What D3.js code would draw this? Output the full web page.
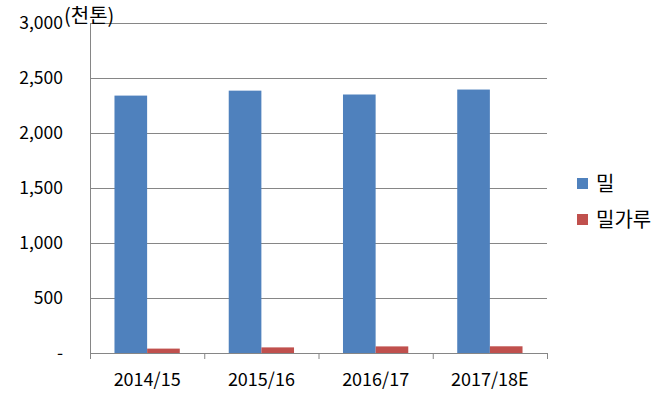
<!DOCTYPE html>
<html>
<head>
<meta charset="utf-8">
<script src="https://cdn.jsdelivr.net/npm/d3@7"></script>
<style>
  body { margin: 0; background: #fff; }
  text { font-family: "Noto Sans CJK KR", "Noto Sans", sans-serif; fill: #000; }
</style>
</head>
<body>
<div id="chart"></div>
<script>
// 연도별 값 (천톤)
var categories = ["2014/15", "2015/16", "2016/17", "2017/18E"];
var seriesNames = ["밀", "밀가루"];
var wheat = [2340, 2385, 2350, 2395];
var flour = [40, 51, 60, 61];
var yTicks = [0, 500, 1000, 1500, 2000, 2500, 3000];
var colors = ["#4F81BD", "#C0504D"];

var width = 662, height = 400;
var margin = { top: 23, right: 115, bottom: 47, left: 90 };
var w = width - margin.left - margin.right,
  h = height - margin.top - margin.bottom;

var svg = d3
  .select("#chart")
  .append("svg")
  .attr("width", width)
  .attr("height", height);

var g = svg
  .append("g")
  .attr("transform", "translate(" + margin.left + "," + margin.top + ")");

var x0 = d3.scaleBand().domain(categories).range([0, w]).padding(0);
var x1 = d3
  .scaleBand()
  .domain(seriesNames)
  .range([0, x0.bandwidth()])
  .paddingInner(0)
  .paddingOuter(0.75);
var y = d3.scaleLinear().domain([0, 3000]).range([h, 0]);

// 가로 눈금선
g.append("g")
  .selectAll("line")
  .data(yTicks.slice(1))
  .join("line")
  .attr("x1", 0)
  .attr("x2", w)
  .attr("y1", function (d) { return y(d) + 0.5; })
  .attr("y2", function (d) { return y(d) + 0.5; })
  .attr("stroke", "#868686")
  .attr("stroke-width", 1);

// y축 라벨
var yAxis = d3
  .axisLeft(y)
  .tickValues(yTicks)
  .tickSize(0)
  .tickPadding(27)
  .tickFormat(function (d) { return d === 0 ? "-" : d3.format(",")(d); });
g.append("g")
  .call(yAxis)
  .call(function (a) {
    a.select(".domain").remove();
    a.selectAll("text").attr("font-size", 17.5);
  });

// 막대
var rows = categories.map(function (c, i) {
  return { cat: c, vals: [wheat[i], flour[i]] };
});
g.append("g")
  .selectAll("g")
  .data(rows)
  .join("g")
  .attr("transform", function (d) { return "translate(" + x0(d.cat) + ",0)"; })
  .selectAll("rect")
  .data(function (d) {
    return d.vals.map(function (v, j) { return { name: seriesNames[j], v: v, j: j }; });
  })
  .join("rect")
  .attr("x", function (d) { return x1(d.name); })
  .attr("width", x1.bandwidth())
  .attr("y", function (d) { return y(d.v); })
  .attr("height", function (d) { return h - y(d.v); })
  .attr("fill", function (d) { return colors[d.j]; });

// 세로축 선
g.append("line")
  .attr("x1", 0.5).attr("x2", 0.5)
  .attr("y1", 0).attr("y2", h)
  .attr("stroke", "#868686");

// x축
var xAxis = d3.axisBottom(x0).tickSize(0).tickPadding(20);
var xg = g.append("g").attr("transform", "translate(0," + h + ")").call(xAxis);
xg.select(".domain").attr("stroke", "#868686");
xg.selectAll("text").attr("font-size", 18);
// 카테고리 경계 눈금
xg.append("g")
  .selectAll("line")
  .data(d3.range(categories.length + 1))
  .join("line")
  .attr("x1", function (i) { return i * x0.step() + 0.5; })
  .attr("x2", function (i) { return i * x0.step() + 0.5; })
  .attr("y1", 0)
  .attr("y2", 6)
  .attr("stroke", "#868686");

// 단위
svg.append("text")
  .attr("x", 64)
  .attr("y", 23)
  .attr("font-size", 20)
  .text("(천톤)");

// 범례
var legend = svg
  .append("g")
  .selectAll("g")
  .data(seriesNames)
  .join("g")
  .attr("transform", function (d, i) { return "translate(577," + (184 + i * 36) + ")"; });
legend.append("rect")
  .attr("x", 0)
  .attr("y", -6)
  .attr("width", 11)
  .attr("height", 11)
  .attr("fill", function (d, i) { return colors[i]; });
legend.append("text")
  .attr("x", 19)
  .attr("dy", "0.35em")
  .attr("font-size", 20)
  .text(function (d) { return d; });
</script>
</body>
</html>
